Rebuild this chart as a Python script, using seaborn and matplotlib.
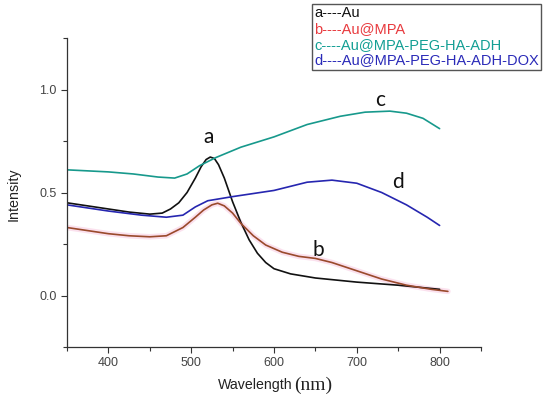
import pandas as pd
import seaborn as sns
import matplotlib.pyplot as plt
from matplotlib.lines import Line2D
from matplotlib.ticker import MultipleLocator


# Кривые поглощения, значения
wl_a = [350, 375, 400, 425, 450, 465, 475, 485, 495, 505, 512, 518, 523, 528, 533, 540, 550, 560, 570, 580, 590, 600, 620, 650, 700, 750, 800]
int_a = [0.45, 0.435, 0.42, 0.405, 0.395, 0.40, 0.42, 0.45, 0.50, 0.57, 0.625, 0.66, 0.672, 0.665, 0.635, 0.57, 0.455, 0.355, 0.27, 0.205, 0.16, 0.13, 0.105, 0.085, 0.065, 0.05, 0.03]

wl_b = [350, 375, 400, 425, 450, 470, 490, 505, 515, 525, 532, 540, 550, 560, 575, 590, 610, 630, 650, 670, 700, 730, 760, 790, 810]
int_b = [0.33, 0.315, 0.30, 0.29, 0.285, 0.29, 0.33, 0.38, 0.415, 0.44, 0.448, 0.435, 0.40, 0.35, 0.29, 0.245, 0.21, 0.19, 0.18, 0.16, 0.12, 0.08, 0.05, 0.03, 0.02]

wl_c = [350, 400, 430, 460, 480, 495, 510, 530, 560, 600, 640, 680, 710, 740, 760, 780, 800]
int_c = [0.61, 0.60, 0.59, 0.575, 0.57, 0.59, 0.63, 0.67, 0.72, 0.77, 0.83, 0.87, 0.89, 0.895, 0.885, 0.86, 0.81]

wl_d = [350, 400, 440, 470, 490, 505, 520, 550, 600, 640, 670, 700, 730, 760, 785, 800]
int_d = [0.44, 0.41, 0.39, 0.38, 0.39, 0.43, 0.46, 0.48, 0.51, 0.55, 0.56, 0.545, 0.50, 0.44, 0.38, 0.34]

samples = ['a', 'b', 'c', 'd']
legend_labels = ['a----Au', 'b----Au@MPA', 'c----Au@MPA-PEG-HA-ADH', 'd----Au@MPA-PEG-HA-ADH-DOX']
line_colors = {'a': '#111111', 'b': '#9a4a2c', 'c': '#17998c', 'd': '#2626b0'}
text_colors = ['#111111', '#e83a3e', '#139f94', '#2a2ab8']

# подписи у кривых (x, y)
label_pos = {'a': (521, 0.77), 'b': (653, 0.22), 'c': (728, 0.95), 'd': (750, 0.55)}

data = pd.concat([
    pd.DataFrame({'Wavelength': w, 'Intensity': i, 'sample': s})
    for w, i, s in zip([wl_a, wl_b, wl_c, wl_d], [int_a, int_b, int_c, int_d], samples)
])

sns.set_style('ticks')
plt.rcParams['font.family'] = ['Liberation Sans', 'DejaVu Sans']

fig = plt.figure(figsize=(5.5, 3.98), dpi=100)
ax = fig.add_axes([67 / 550, 51 / 398, 414 / 550, 309 / 398])

# розоватая тень под кривой b
sns.lineplot(data=data[data['sample'] == 'b'], x='Wavelength', y='Intensity',
             color='#fbe1ee', linewidth=4, ax=ax, legend=False)
sns.lineplot(data=data, x='Wavelength', y='Intensity', hue='sample',
             palette=line_colors, linewidth=1.2, ax=ax, legend=False)

for s in samples:
    x, y = label_pos[s]
    ax.text(x, y, s, fontsize=15, family=['Lato', 'DejaVu Sans'], ha='center', va='center', color='#111111')

ax.set_xlim(350, 850)
ax.set_ylim(-0.25, 1.25)
ax.xaxis.set_major_locator(MultipleLocator(100))
ax.xaxis.set_minor_locator(MultipleLocator(50))
ax.yaxis.set_major_locator(MultipleLocator(0.5))
ax.yaxis.set_minor_locator(MultipleLocator(0.25))
ax.yaxis.set_major_formatter(plt.FormatStrFormatter('%.1f'))
ax.tick_params(which='major', length=4, width=0.8, color='#333333', labelsize=9, labelcolor='#444444')
ax.tick_params(which='minor', length=3, width=0.8, color='#333333')
sns.despine(ax=ax)
for sp in ['left', 'bottom']:
    ax.spines[sp].set_color('#333333')
    ax.spines[sp].set_linewidth(0.9)

ax.set_xlabel('Wavelength', fontsize=10.2, color='#222222', va='center')
ax.xaxis.set_label_coords(0.455, -0.124)
ax.text(0.594, -0.124, '(nm)', transform=ax.transAxes, fontsize=14,
        family=['Liberation Serif', 'DejaVu Serif'], ha='center', va='center', color='#222222')
ax.set_ylabel('Intensity', fontsize=10.3, color='#222222', va='center')
ax.yaxis.set_label_coords(-0.13, 0.495)

handles = [Line2D([], [], linestyle='none') for _ in legend_labels]
leg = fig.legend(handles, legend_labels, loc='upper left', bbox_to_anchor=(312 / 550, 1 - 4 / 398),
                 bbox_transform=fig.transFigure, borderaxespad=0, handlelength=0, handletextpad=0,
                 fontsize=10.5, labelspacing=0.12, borderpad=0.15, fancybox=False,
                 edgecolor='#555555', framealpha=1, labelcolor=text_colors)
leg.get_frame().set_linewidth(1.0)

fig.savefig('out.png', dpi=100)
